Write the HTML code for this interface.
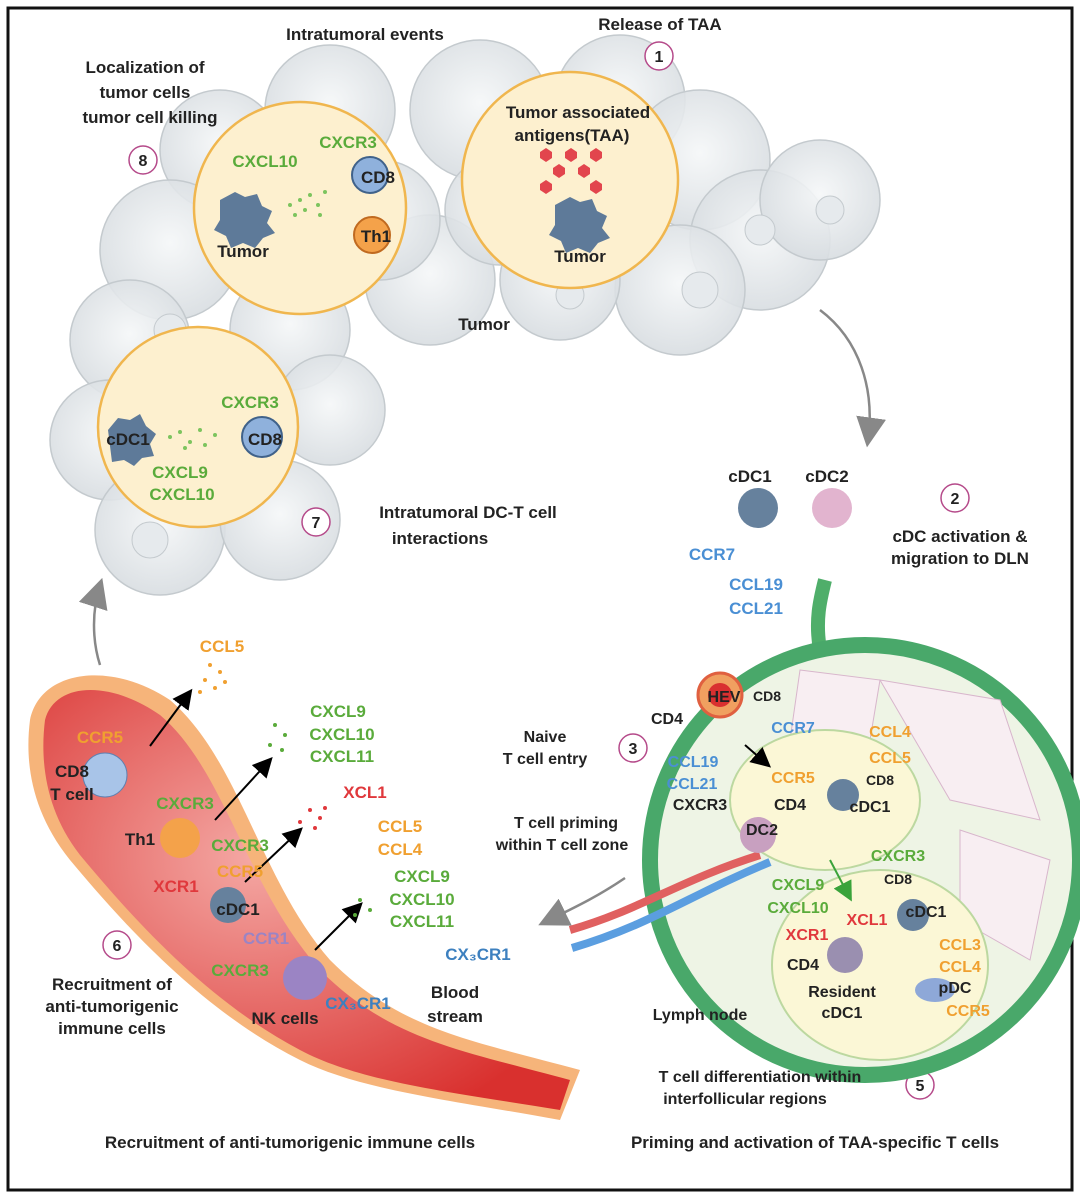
<!DOCTYPE html>
<html><head><meta charset="utf-8"><style>
html,body{margin:0;padding:0;background:#fff;}
svg{display:block;font-family:"Liberation Sans",Arial,sans-serif;font-weight:bold;}
</style></head><body>
<svg width="1080" height="1198" viewBox="0 0 1080 1198" xmlns="http://www.w3.org/2000/svg">
<defs>
<radialGradient id="cell" cx="50%" cy="45%" r="55%"><stop offset="0" stop-color="#f5f7f8"/><stop offset="1" stop-color="#d8dde1"/></radialGradient>
<radialGradient id="ves" cx="40%" cy="40%" r="70%"><stop offset="0" stop-color="#f4a8a4"/><stop offset="1" stop-color="#d9302e"/></radialGradient>
<marker id="ah" markerWidth="10" markerHeight="10" refX="8" refY="5" orient="auto"><path d="M0,0 L10,5 L0,10 z" fill="#000"/></marker>
<marker id="ag" markerWidth="12" markerHeight="12" refX="9" refY="6" orient="auto"><path d="M0,0 L12,6 L0,12 z" fill="#888"/></marker>
<marker id="agr" markerWidth="10" markerHeight="10" refX="8" refY="5" orient="auto"><path d="M0,0 L10,5 L0,10 z" fill="#3aa33a"/></marker>
</defs>
<rect x="8" y="8" width="1064" height="1182" fill="#fff" stroke="#111" stroke-width="3"/>

<!-- tumor cloud -->
<g fill="url(#cell)" stroke="#c4cace" stroke-width="1.5" fill-opacity="0.9">
<circle cx="480" cy="110" r="70"/><circle cx="620" cy="100" r="65"/><circle cx="700" cy="160" r="70"/>
<circle cx="760" cy="240" r="70"/><circle cx="820" cy="200" r="60"/><circle cx="680" cy="290" r="65"/>
<circle cx="560" cy="280" r="60"/><circle cx="430" cy="280" r="65"/><circle cx="330" cy="110" r="65"/>
<circle cx="220" cy="150" r="60"/><circle cx="170" cy="250" r="70"/><circle cx="130" cy="340" r="60"/>
<circle cx="290" cy="330" r="60"/><circle cx="110" cy="440" r="60"/><circle cx="160" cy="530" r="65"/>
<circle cx="280" cy="520" r="60"/><circle cx="330" cy="410" r="55"/><circle cx="380" cy="220" r="60"/>
<circle cx="500" cy="210" r="55"/>
</g>
<g fill="#e6eaed" stroke="#c4cace"><circle cx="700" cy="290" r="18"/><circle cx="760" cy="230" r="15"/><circle cx="830" cy="210" r="14"/><circle cx="170" cy="330" r="16"/><circle cx="150" cy="540" r="18"/><circle cx="570" cy="295" r="14"/></g>

<!-- big circles -->
<g fill="#fdf0cf" stroke="#f0b64e" stroke-width="2.5">
<circle cx="300" cy="208" r="106"/><circle cx="570" cy="180" r="108"/><circle cx="198" cy="427" r="100"/>
</g>

<!-- tumor cell icons -->
<g fill="#5e7a99"><path d="M220,200 l15,-8 l10,5 l12,-3 l5,12 l10,5 l-5,12 l8,10 l-12,5 l-8,10 l-12,-5 l-12,5 l-5,-12 l-12,-6 l6,-10z"/>
<path d="M555,205 l15,-8 l10,5 l12,-3 l5,12 l10,5 l-5,12 l8,10 l-12,5 l-8,10 l-12,-5 l-12,5 l-5,-12 l-12,-6 l6,-10z"/>
<path d="M108,430 l10,-12 l12,2 l10,-6 l6,12 l10,8 l-6,10 l4,12 l-12,2 l-8,8 l-10,-6 l-12,2 z"/></g>
<g fill="#e2454d"><polygon points="540,152 546,148 552,152 552,158 546,162 540,158"/><polygon points="565,152 571,148 577,152 577,158 571,162 565,158"/><polygon points="590,152 596,148 602,152 602,158 596,162 590,158"/><polygon points="553,168 559,164 565,168 565,174 559,178 553,174"/><polygon points="578,168 584,164 590,168 590,174 584,178 578,174"/><polygon points="540,184 546,180 552,184 552,190 546,194 540,190"/><polygon points="590,184 596,180 602,184 602,190 596,194 590,190"/></g>
<circle cx="370" cy="175" r="18" fill="#8fb1dc" stroke="#40628a" stroke-width="2"/>
<circle cx="372" cy="235" r="18" fill="#f4a24a" stroke="#c06a20" stroke-width="2"/>
<circle cx="262" cy="437" r="20" fill="#8fb1dc" stroke="#40628a" stroke-width="2"/>
<g fill="#7cc45e"><circle cx="290" cy="205" r="2"/><circle cx="300" cy="200" r="2"/><circle cx="310" cy="195" r="2"/><circle cx="305" cy="210" r="2"/><circle cx="318" cy="205" r="2"/><circle cx="325" cy="192" r="2"/><circle cx="295" cy="215" r="2"/><circle cx="320" cy="215" r="2"/>
<circle cx="170" cy="437" r="2"/><circle cx="180" cy="432" r="2"/><circle cx="190" cy="442" r="2"/><circle cx="200" cy="430" r="2"/><circle cx="205" cy="445" r="2"/><circle cx="215" cy="435" r="2"/><circle cx="185" cy="448" r="2"/></g>

<g font-size="17" fill="#222" text-anchor="middle">
<text x="365" y="40">Intratumoral events</text>
<text x="660" y="30">Release of TAA</text>
<text x="145" y="73">Localization of</text>
<text x="145" y="98">tumor cells</text>
<text x="150" y="123">tumor cell killing</text>
<text x="578" y="118">Tumor associated</text>
<text x="572" y="141">antigens(TAA)</text>
<text x="580" y="262">Tumor</text>
<text x="243" y="257">Tumor</text>
<text x="378" y="183">CD8</text>
<text x="376" y="242">Th1</text>
<text x="484" y="330">Tumor</text>
<text x="128" y="445">cDC1</text>
<text x="265" y="445">CD8</text>
<text x="468" y="518">Intratumoral DC-T cell</text>
<text x="440" y="544">interactions</text>
</g>
<g font-size="17" fill="#5aab3b" text-anchor="middle">
<text x="265" y="167">CXCL10</text><text x="348" y="148">CXCR3</text>
<text x="250" y="408">CXCR3</text><text x="180" y="478">CXCL9</text><text x="182" y="500">CXCL10</text>
</g>
<g fill="#fff" stroke="#b54a8a" stroke-width="1.5"><circle cx="659" cy="56" r="14"/><circle cx="143" cy="160" r="14"/><circle cx="316" cy="522" r="14"/><circle cx="955" cy="498" r="14"/><circle cx="633" cy="748" r="14"/><circle cx="672" cy="834" r="14"/><circle cx="117" cy="945" r="14"/><circle cx="920" cy="1085" r="14"/></g>
<g font-size="16" fill="#222" text-anchor="middle"><text x="659" y="62">1</text><text x="143" y="166">8</text><text x="316" y="528">7</text><text x="955" y="504">2</text><text x="633" y="754">3</text><text x="672" y="840">4</text><text x="117" y="951">6</text><text x="920" y="1091">5</text></g>

<!-- gray arrows -->
<path d="M820,310 C860,340 875,390 868,440" fill="none" stroke="#888" stroke-width="2.5" marker-end="url(#ag)"/>
<path d="M100,665 C92,640 92,610 100,585" fill="none" stroke="#888" stroke-width="2.5" marker-end="url(#ag)"/>
<path d="M625,878 C600,895 580,905 545,922" fill="none" stroke="#888" stroke-width="2.5" marker-end="url(#ag)"/>

<!-- DCs top right -->
<circle cx="758" cy="508" r="20" fill="#66819d"/><circle cx="832" cy="508" r="20" fill="#e2b4cf"/>
<g font-size="17" fill="#222" text-anchor="middle"><text x="750" y="482">cDC1</text><text x="827" y="482">cDC2</text><text x="960" y="542">cDC activation &amp;</text><text x="960" y="564">migration to DLN</text></g>
<g font-size="17" fill="#4a8fd4" text-anchor="middle"><text x="712" y="560">CCR7</text><text x="756" y="590">CCL19</text><text x="756" y="614">CCL21</text></g>

<!-- lymph node -->
<path d="M825,580 C820,600 815,620 820,650" stroke="#4fae6a" stroke-width="14" fill="none"/>
<circle cx="865" cy="860" r="215" fill="#eef4e5" stroke="#49a86a" stroke-width="16"/>
<g fill="#f8eef2" stroke="#d8b6cc"><path d="M880,680 L1000,700 L1040,820 L950,800 Z"/><path d="M960,830 L1050,860 L1030,960 L960,920 Z"/><path d="M800,670 L880,680 L870,740 L790,740 Z"/></g>
<ellipse cx="825" cy="800" rx="95" ry="70" fill="#fbf7d6" stroke="#bcd8a0" stroke-width="2"/>
<ellipse cx="880" cy="965" rx="108" ry="95" fill="#fbf7d6" stroke="#bcd8a0" stroke-width="2"/>
<path d="M570,930 C640,910 680,880 760,855" stroke="#e06060" stroke-width="8" fill="none"/>
<path d="M572,948 C650,925 690,895 770,862" stroke="#5b9ee0" stroke-width="8" fill="none"/>
<circle cx="720" cy="695" r="22" fill="#f0a060" stroke="#e06040" stroke-width="3"/>
<circle cx="720" cy="695" r="12" fill="#d93030"/>
<circle cx="843" cy="795" r="16" fill="#66819d"/><circle cx="913" cy="915" r="16" fill="#66819d"/><circle cx="845" cy="955" r="18" fill="#9a8fb0"/><circle cx="758" cy="835" r="18" fill="#c8a0c0"/>
<ellipse cx="935" cy="990" rx="20" ry="12" fill="#8ea8d8"/>
<line x1="745" y1="745" x2="768" y2="765" stroke="#000" stroke-width="2" marker-end="url(#ah)"/>
<line x1="830" y1="860" x2="850" y2="898" stroke="#3aa33a" stroke-width="2" marker-end="url(#agr)"/>
<g font-size="16" fill="#222" text-anchor="middle">
<text x="724" y="702">HEV</text><text x="767" y="701" font-size="14">CD8</text><text x="667" y="724">CD4</text>
<text x="880" y="785" font-size="14">CD8</text><text x="870" y="812">cDC1</text><text x="790" y="810">CD4</text><text x="762" y="835">DC2</text>
<text x="898" y="884" font-size="14">CD8</text><text x="926" y="917">cDC1</text><text x="803" y="970">CD4</text>
<text x="842" y="997">Resident</text><text x="842" y="1018">cDC1</text><text x="955" y="993">pDC</text>
<text x="700" y="1020">Lymph node</text>
<text x="545" y="742">Naive</text><text x="545" y="764">T cell entry</text>
<text x="566" y="828">T cell priming</text><text x="562" y="850">within T cell zone</text>
<text x="760" y="1082">T cell differentiation within</text><text x="745" y="1104">interfollicular regions</text>
<text x="700" y="810">CXCR3</text>
</g>
<g font-size="16" text-anchor="middle">
<text x="793" y="733" fill="#4a8fd4">CCR7</text><text x="693" y="767" fill="#4a8fd4">CCL19</text><text x="692" y="789" fill="#4a8fd4">CCL21</text>
<text x="890" y="737" fill="#f0a030">CCL4</text><text x="890" y="763" fill="#f0a030">CCL5</text><text x="793" y="783" fill="#f0a030">CCR5</text>
<text x="898" y="861" fill="#5aab3b">CXCR3</text><text x="798" y="890" fill="#5aab3b">CXCL9</text><text x="798" y="913" fill="#5aab3b">CXCL10</text>
<text x="867" y="925" fill="#e0383c">XCL1</text><text x="807" y="940" fill="#e0383c">XCR1</text>
<text x="960" y="950" fill="#f0a030">CCL3</text><text x="960" y="972" fill="#f0a030">CCL4</text><text x="968" y="1016" fill="#f0a030">CCR5</text>
</g>

<!-- blood vessel -->
<path d="M30,720 C40,670 110,660 170,700 C240,760 260,880 330,960 C400,1030 470,1040 580,1070 L560,1120 C450,1100 360,1090 300,1060 C200,1010 120,920 70,860 C30,810 25,760 30,720 Z" fill="#f6b47a"/>
<path d="M45,720 C55,682 110,680 160,715 C225,770 245,885 320,970 C390,1040 460,1050 570,1080 L560,1110 C450,1092 360,1082 300,1050 C205,1000 130,915 80,855 C45,810 40,760 45,720 Z" fill="url(#ves)"/>
<circle cx="105" cy="775" r="22" fill="#a8c4e8" stroke="#6080b0"/><circle cx="180" cy="838" r="20" fill="#f4a24a"/><circle cx="228" cy="905" r="18" fill="#66819d"/><circle cx="305" cy="978" r="22" fill="#9b84c4"/>
<g stroke="#000" stroke-width="2" marker-end="url(#ah)"><line x1="150" y1="746" x2="190" y2="692"/><line x1="215" y1="820" x2="270" y2="760"/><line x1="245" y1="882" x2="300" y2="830"/><line x1="315" y1="950" x2="360" y2="905"/></g>
<g font-size="17" text-anchor="middle">
<text x="222" y="652" fill="#f0a030">CCL5</text>
<text x="100" y="743" fill="#f0a030">CCR5</text>
<text x="72" y="777" fill="#222">CD8</text><text x="72" y="800" fill="#222">T cell</text>
<text x="185" y="809" fill="#5aab3b">CXCR3</text>
<text x="140" y="845" fill="#222">Th1</text><text x="240" y="851" fill="#5aab3b">CXCR3</text><text x="240" y="877" fill="#f0a030">CCR5</text>
<text x="176" y="892" fill="#e0383c">XCR1</text><text x="238" y="915" fill="#222">cDC1</text><text x="266" y="944" fill="#9b84c4">CCR1</text>
<text x="240" y="976" fill="#5aab3b">CXCR3</text><text x="358" y="1009" fill="#3d80bf">CX₃CR1</text>
<text x="285" y="1024" fill="#222">NK cells</text>
<text x="455" y="998" fill="#222">Blood</text><text x="455" y="1022" fill="#222">stream</text>
<text x="338" y="717" fill="#5aab3b">CXCL9</text><text x="342" y="740" fill="#5aab3b">CXCL10</text><text x="342" y="762" fill="#5aab3b">CXCL11</text>
<text x="365" y="798" fill="#e0383c">XCL1</text><text x="400" y="832" fill="#f0a030">CCL5</text><text x="400" y="855" fill="#f0a030">CCL4</text>
<text x="422" y="882" fill="#5aab3b">CXCL9</text><text x="422" y="905" fill="#5aab3b">CXCL10</text><text x="422" y="927" fill="#5aab3b">CXCL11</text>
<text x="478" y="960" fill="#3d80bf">CX₃CR1</text>
<text x="112" y="990" fill="#222">Recruitment of</text><text x="112" y="1012" fill="#222">anti-tumorigenic</text><text x="112" y="1034" fill="#222">immune cells</text>
</g>
<g fill="#f0a030"><circle cx="210" cy="665" r="2"/><circle cx="220" cy="672" r="2"/><circle cx="205" cy="680" r="2"/><circle cx="215" cy="688" r="2"/><circle cx="225" cy="682" r="2"/><circle cx="200" cy="692" r="2"/></g>
<g fill="#e0383c"><circle cx="310" cy="810" r="2"/><circle cx="320" cy="818" r="2"/><circle cx="300" cy="822" r="2"/><circle cx="315" cy="828" r="2"/><circle cx="325" cy="808" r="2"/></g>
<g fill="#5aab3b"><circle cx="275" cy="725" r="2"/><circle cx="285" cy="735" r="2"/><circle cx="270" cy="745" r="2"/><circle cx="282" cy="750" r="2"/><circle cx="360" cy="900" r="2"/><circle cx="370" cy="910" r="2"/><circle cx="355" cy="915" r="2"/></g>

<g font-size="17" fill="#222" text-anchor="middle">
<text x="290" y="1148">Recruitment of anti-tumorigenic immune cells</text>
<text x="815" y="1148">Priming and activation of TAA-specific T cells</text>
</g>
</svg>
</body></html>
